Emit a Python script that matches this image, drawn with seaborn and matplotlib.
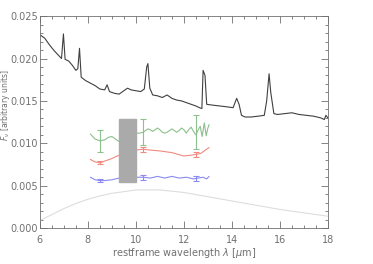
import numpy as np
import pandas as pd
import matplotlib
matplotlib.use("Agg")
import matplotlib.pyplot as plt
from matplotlib.patches import Rectangle
from matplotlib.ticker import MultipleLocator
import seaborn as sns

spec_x = [6.0, 6.2, 6.4, 6.6, 6.8, 6.9, 6.98, 7.05, 7.2, 7.35, 7.5, 7.58, 7.65, 7.72, 7.9, 8.1, 8.3,
          8.5, 8.7, 8.8, 8.9, 9.1, 9.3, 9.5, 9.65, 9.8, 10.0, 10.2, 10.35, 10.45, 10.5, 10.58, 10.7, 10.9,
          11.1, 11.3, 11.5, 11.7, 11.9, 12.1, 12.3, 12.5, 12.65, 12.75, 12.8, 12.88, 12.95, 13.2,
          13.5, 13.8, 14.05, 14.2, 14.3, 14.4, 14.55, 14.8, 15.1, 15.35, 15.45, 15.55, 15.62, 15.75,
          15.9, 16.2, 16.5, 16.8, 17.1, 17.4, 17.7, 17.85, 17.92, 18.0]
spec_y = [0.0228, 0.0224, 0.0216, 0.0209, 0.0203, 0.0200, 0.0229, 0.0199, 0.0197, 0.0192, 0.0186, 0.0188, 0.0212,
          0.0178, 0.0174, 0.0171, 0.0168, 0.0164, 0.0163, 0.0169, 0.0161, 0.0159, 0.0158, 0.0162, 0.0165,
          0.0163, 0.0162, 0.0161, 0.0164, 0.0190, 0.0194, 0.0165, 0.0157, 0.0156, 0.0154, 0.0157, 0.0153,
          0.0151, 0.0150, 0.0148, 0.0146, 0.0144, 0.0142, 0.0141, 0.0186, 0.0180, 0.0146, 0.0145, 0.0144,
          0.0143, 0.0142, 0.0153, 0.0146, 0.0133, 0.0131, 0.0131, 0.0132, 0.0133, 0.0150, 0.0182, 0.0160,
          0.0135, 0.0134, 0.0135, 0.0136, 0.0134, 0.0133, 0.0132, 0.0130, 0.0128, 0.0133, 0.0130]

# continuum model
cont_x = [6, 6.5, 7, 7.5, 8, 8.5, 9, 9.5, 10, 10.5, 11, 12, 13, 14, 15, 16, 17, 18]
cont_y = [0.0009, 0.0016, 0.0023, 0.0029, 0.0034, 0.0038, 0.0041, 0.0043, 0.0045, 0.0045, 0.0045, 0.0042,
          0.0037, 0.0032, 0.0027, 0.0022, 0.0018, 0.0014]

# three derived curves, left and right of the masked band
green_x = [8.1, 8.3, 8.5, 8.7, 8.85, 9.0, 9.15, 9.3,
           10.0, 10.15, 10.3, 10.4, 10.5, 10.6, 10.7, 10.8, 10.9, 11.0, 11.1, 11.2, 11.3, 11.4, 11.5,
           11.6, 11.7, 11.8, 11.9, 12.0, 12.1, 12.2, 12.3, 12.4, 12.5, 12.6, 12.68, 12.76, 12.85,
           12.93, 13.0, 13.05]
green_y = [0.0111, 0.0105, 0.0103, 0.0104, 0.0107, 0.0108, 0.0105, 0.0102,
           0.0112, 0.0112, 0.0113, 0.0115, 0.0117, 0.0116, 0.0114, 0.0116, 0.0118, 0.0116, 0.0113,
           0.0112, 0.0113, 0.0115, 0.0117, 0.0115, 0.0113, 0.0115, 0.0118, 0.0116, 0.0112, 0.0116,
           0.0119, 0.0114, 0.0110, 0.0116, 0.0120, 0.0108, 0.0124, 0.0109, 0.0118, 0.0122]
red_x = [8.1, 8.3, 8.5, 8.7, 9.0, 9.3, 10.0, 10.3, 10.6, 11.0, 11.5, 12.0, 12.3, 12.5, 12.7, 12.9, 13.05]
red_y = [0.0081, 0.0078, 0.0077, 0.0079, 0.0082, 0.0086, 0.0092, 0.0093, 0.0092, 0.0091, 0.0089, 0.0085,
         0.0086, 0.0087, 0.0088, 0.0092, 0.0095]
blue_x = [8.1, 8.3, 8.5, 8.7, 9.0, 9.3, 10.0, 10.3, 10.6, 10.9, 11.2, 11.5, 11.8, 12.1, 12.4, 12.6, 12.8,
          12.95, 13.05]
blue_y = [0.0060, 0.0057, 0.0056, 0.0056, 0.0057, 0.0059, 0.0060, 0.0060, 0.0059, 0.0061, 0.0059, 0.0061,
          0.0059, 0.0060, 0.0058, 0.0059, 0.0060, 0.0058, 0.0061]

# error bars
err_x = [8.5, 10.3, 12.5]
green_err_y = [0.0103, 0.01135, 0.0113]
green_err = [0.0013, 0.00155, 0.0020]
red_err_y = [0.0077, 0.0093, 0.0087]
red_err = [0.0002, 0.0003, 0.0003]
blue_err_y = [0.0056, 0.0060, 0.0059]
blue_err = [0.0002, 0.0003, 0.0003]

# masked band
band_x = [9.3, 10.0]
band_y = [0.0054, 0.01285]

sns.set_style("ticks")
plt.rcParams['font.family'] = ['DejaVu Sans']
grey = '#707070'
plt.rcParams['axes.edgecolor'] = grey
plt.rcParams['xtick.color'] = grey
plt.rcParams['ytick.color'] = grey

fig = plt.figure(figsize=(3.73, 2.64), dpi=100)
ax = fig.add_axes([0.107, 0.136, 0.772, 0.803])

sns.lineplot(x=cont_x, y=cont_y, ax=ax, color='#dddddd', lw=0.8)
sns.lineplot(x=spec_x, y=spec_y, ax=ax, color='#404040', lw=0.8, sort=False)

for xs, ys, c, ey, ee in [(green_x, green_y, '#8cc08c', green_err_y, green_err),
                          (red_x, red_y, '#f08a80', red_err_y, red_err),
                          (blue_x, blue_y, '#8a8af0', blue_err_y, blue_err)]:
    df = pd.DataFrame({'x': xs, 'y': ys})
    left = df[df.x < band_x[0] + 0.01]
    right = df[df.x > band_x[1] - 0.01]
    sns.lineplot(data=left, x='x', y='y', ax=ax, color=c, lw=0.8)
    sns.lineplot(data=right, x='x', y='y', ax=ax, color=c, lw=0.8)
    ax.errorbar(err_x, ey, yerr=ee, fmt='none', ecolor=c, elinewidth=0.8, capsize=2, capthick=0.8)

ax.add_patch(Rectangle((band_x[0], band_y[0]), band_x[1] - band_x[0], band_y[1] - band_y[0],
                       facecolor='#aaaaaa', edgecolor='#aaaaaa', zorder=5))

ax.set_xlim(6, 18)
ax.set_ylim(0, 0.025)
ax.xaxis.set_major_locator(MultipleLocator(2))
ax.xaxis.set_minor_locator(MultipleLocator(0.5))
ax.yaxis.set_major_locator(MultipleLocator(0.005))
ax.yaxis.set_minor_locator(MultipleLocator(0.001))
ax.yaxis.set_major_formatter(matplotlib.ticker.FormatStrFormatter('%.3f'))
ax.tick_params(which='both', direction='in', top=True, right=True, labelsize=7, width=0.6)
ax.tick_params(which='major', length=5)
ax.tick_params(which='minor', length=2.5)
ax.tick_params(axis='x', pad=5)
ax.tick_params(axis='y', pad=1.5)
for s in ax.spines.values():
    s.set_linewidth(0.6)

ax.set_xlabel(r'restframe wavelength $\lambda$ [$\mu$m]', fontsize=7, color=grey, labelpad=1)
ax.set_ylabel(r'$F_\nu$ [arbitrary units]', fontsize=5.5, color=grey)
ax.yaxis.set_label_coords(-0.096, 0.58)

fig.savefig('out.png', dpi=100)
